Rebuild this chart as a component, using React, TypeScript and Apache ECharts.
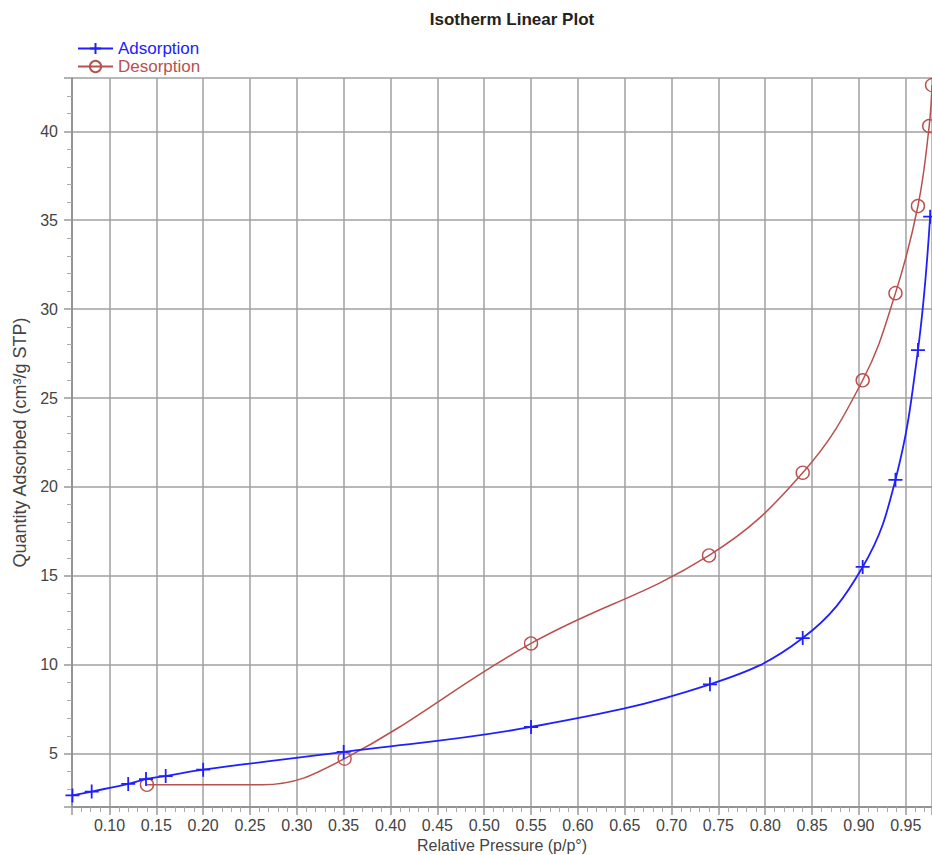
import React, { useEffect, useRef } from "react";
import * as echarts from "echarts";

const titleText = "Isotherm Linear Plot";
const xAxisName = "Relative Pressure (p/p°)";
const yAxisName = "Quantity Adsorbed (cm³/g STP)";
const seriesNames = ["Adsorption", "Desorption"];

const adsorptionP = [0.0605, 0.081, 0.12, 0.139, 0.16, 0.2, 0.35, 0.55, 0.741, 0.84, 0.904, 0.939, 0.963, 0.976];
const adsorptionQ = [2.65, 2.87, 3.3, 3.57, 3.74, 4.1, 5.1, 6.5, 8.9, 11.5, 15.5, 20.4, 27.7, 35.2];

const desorptionP = [0.14, 0.263, 0.351, 0.55, 0.74, 0.84, 0.904, 0.939, 0.963, 0.975, 0.978];
const desorptionQ = [3.25, 3.25, 4.72, 11.2, 16.15, 20.8, 26.0, 30.9, 35.8, 40.3, 42.6];
const desorptionMarked = [true, false, true, true, true, true, true, true, true, true, true];

const xMin = 0.06;
const xMax = 0.978;
const yMin = 2;
const yMax = 43;

const BLUE = "#2020ff";
const RED = "#b9504e";
const FONT = "Liberation Sans, Arial, sans-serif";

export default function App() {
  const ref = useRef<HTMLDivElement>(null);
  useEffect(() => {
    if (!ref.current) return;
    const chart = echarts.init(ref.current, null, { renderer: "svg" });
    const plusPath = "path://M7,0L7,14M0,7L14,7";
    const isMult = (v: number, step: number) => Math.abs(v / step - Math.round(v / step)) < 1e-6;
    chart.setOption({
      animation: false,
      backgroundColor: "#ffffff",
      textStyle: { fontFamily: FONT },
      title: {
        text: titleText,
        left: 507,
        top: 6,
        textAlign: "center",
        textStyle: { fontFamily: FONT, fontSize: 17, fontWeight: "bold", color: "#222" },
      },
      legend: {
        left: 72,
        top: 35,
        orient: "vertical",
        itemWidth: 35,
        itemHeight: 14,
        itemGap: 1,
        textStyle: { fontFamily: FONT, fontSize: 17 },
        data: [
          { name: seriesNames[0], textStyle: { color: BLUE } },
          { name: seriesNames[1], textStyle: { color: RED } },
        ],
      },
      grid: { left: 72, right: 0, top: 78, bottom: 48, outerBoundsMode: "none", containLabel: false },
      xAxis: {
        type: "value",
        min: xMin,
        max: xMax,
        minInterval: 0.05,
        maxInterval: 0.05,
        splitNumber: 18,
        name: xAxisName,
        nameLocation: "middle",
        nameGap: 23,
        nameTextStyle: { fontFamily: FONT, fontSize: 16, color: "#444" },
        axisLine: { show: true, lineStyle: { color: "#888", width: 1.5 } },
        axisTick: { show: true, length: 8, lineStyle: { color: "#999", width: 1.5 } },
        minorTick: { show: true, splitNumber: 5, length: 5, lineStyle: { color: "#aaa", width: 1 } },
        axisLabel: {
          margin: 10,
          fontSize: 16,
          color: "#444",
          fontFamily: FONT,
          formatter: (v: number) => (isMult(v, 0.05) ? v.toFixed(2) : ""),
        },
        splitLine: { show: true, lineStyle: { color: "#a0a0a0", width: 1.5 } },
      },
      yAxis: {
        type: "value",
        min: yMin,
        max: yMax,
        minInterval: 5,
        maxInterval: 5,
        splitNumber: 8,
        name: yAxisName,
        nameLocation: "middle",
        nameGap: 42,
        nameTextStyle: { fontFamily: FONT, fontSize: 18, color: "#444" },
        axisLine: { show: true, lineStyle: { color: "#888", width: 1.5 } },
        axisTick: { show: true, length: 8, lineStyle: { color: "#999", width: 1.5 } },
        minorTick: { show: true, splitNumber: 5, length: 5, lineStyle: { color: "#aaa", width: 1 } },
        axisLabel: {
          margin: 14,
          fontSize: 16,
          color: "#444",
          fontFamily: FONT,
          formatter: (v: number) => (isMult(v, 5) ? String(v) : ""),
        },
        splitLine: { show: true, lineStyle: { color: "#a0a0a0", width: 1.5 } },
      },
      series: [
        {
          name: seriesNames[1],
          type: "line",
          z: 2,
          clip: false,
          smooth: 0.4,
          symbol: "circle",
          symbolSize: 13,
          lineStyle: { color: RED, width: 1.5 },
          itemStyle: { color: "rgba(0,0,0,0)", borderColor: RED, borderWidth: 1.4 },
          data: desorptionP.map((p, i) =>
            desorptionMarked[i] ? [p, desorptionQ[i]] : { value: [p, desorptionQ[i]], symbol: "none" }
          ),
        },
        {
          name: seriesNames[0],
          type: "line",
          z: 3,
          clip: false,
          smooth: 0.4,
          symbol: plusPath,
          symbolSize: 14,
          lineStyle: { color: BLUE, width: 1.8 },
          itemStyle: { color: BLUE, borderColor: BLUE, borderWidth: 1.8 },
          data: adsorptionP.map((p, i) => [p, adsorptionQ[i]]),
        },
      ],
    });
    return () => chart.dispose();
  }, []);
  return (
    <div
      ref={ref}
      style={{ position: "absolute", left: 0, top: 0, width: 932, height: 855 }}
    />
  );
}
